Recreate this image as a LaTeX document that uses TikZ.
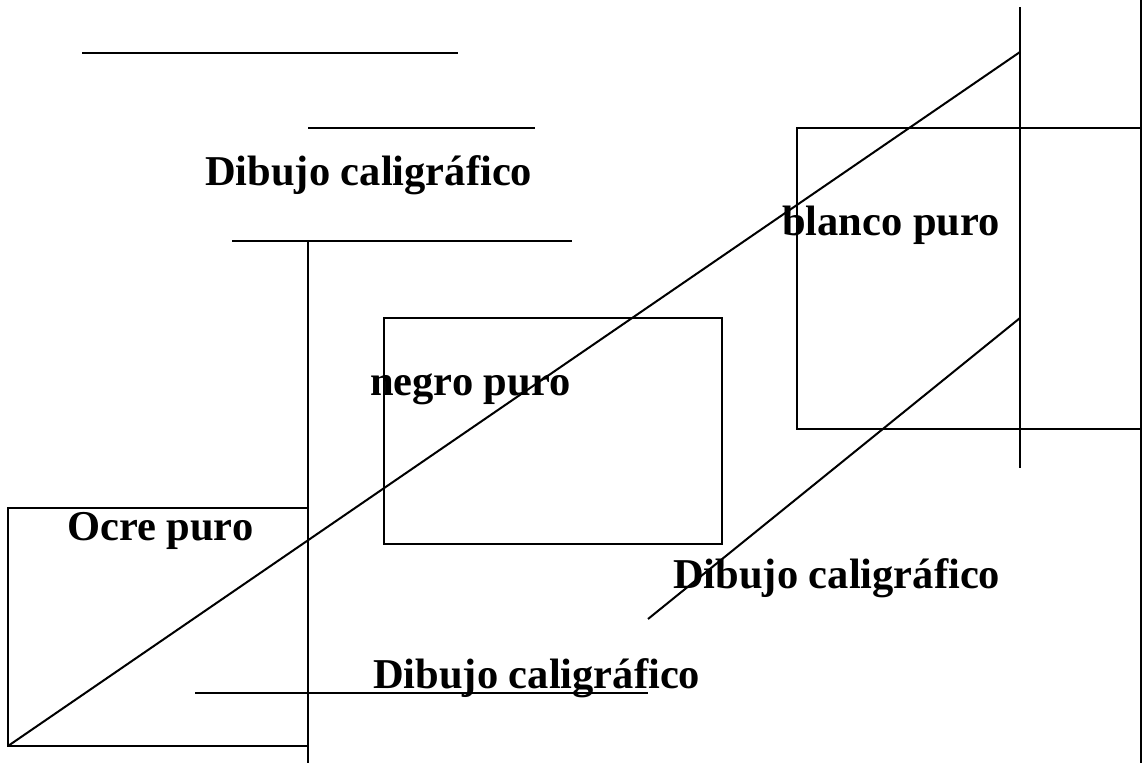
\documentclass[tikz,border=0pt]{standalone}
\usepackage{fontspec}
\setmainfont{Liberation Serif}
\begin{document}
\begin{tikzpicture}[x=1pt,y=-1pt,
  ln/.style={line width=2pt,black},
  lbl/.style={font=\bfseries\fontsize{42.5}{48}\selectfont,inner sep=0pt,anchor=base west}]
\useasboundingbox (0,0) rectangle (1144,763);
% top strokes
\coordinate (t1a) at (82,53);   \coordinate (t1b) at (458,53);
\coordinate (t2a) at (308,128); \coordinate (t2b) at (535,128);
\coordinate (t3a) at (232,241); \coordinate (t3b) at (572,241);
\draw[ln] (t1a) -- (t1b);
\draw[ln] (t2a) -- (t2b);
\draw[ln] (t3a) -- (t3b);
% main vertical
\coordinate (v1a) at (308,241); \coordinate (v1b) at (308,763);
\draw[ln] (v1a) -- (v1b);
% ocre box
\draw[ln] (8,508) rectangle (308,746);
% negro box
\draw[ln] (384,318) rectangle (722,544);
% blanco box with right edge line
\coordinate (rtop) at (1141,0); \coordinate (rbot) at (1141,763);
\draw[ln] (rtop) -- (rbot);
\draw[ln] (1141,128) -- (797,128) -- (797,429) -- (1141,429);
% vertical at 1020
\coordinate (v2a) at (1020,7); \coordinate (v2b) at (1020,468);
\draw[ln] (v2a) -- (v2b);
% diagonals
\coordinate (d1a) at (8,746);   \coordinate (d1b) at (1020,52);
\coordinate (d2a) at (1020,318); \coordinate (d2b) at (648,619);
\draw[ln] (d1a) -- (d1b);
\draw[ln] (d2a) -- (d2b);
% bottom stroke
\coordinate (b1a) at (195,693); \coordinate (b1b) at (648,693);
\draw[ln] (b1a) -- (b1b);
% labels
\node[lbl] (dc1) at (205,185) {Dibujo caligráfico};
\node[lbl] (bp) at (782,235) {blanco puro};
\node[lbl] (np) at (370,395) {negro puro};
\node[lbl] (op) at (67,540) {Ocre puro};
\node[lbl] (dc2) at (673,588) {Dibujo caligráfico};
\node[lbl] (dc3) at (373,688) {Dibujo caligráfico};
\end{tikzpicture}
\end{document}
